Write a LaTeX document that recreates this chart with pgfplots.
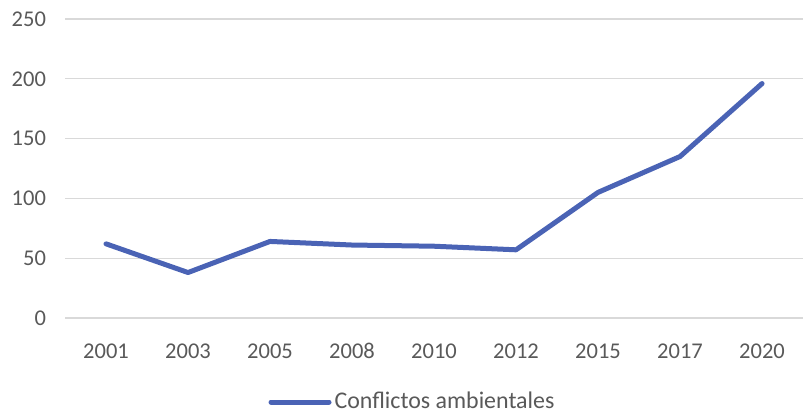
\documentclass[border=0pt]{standalone}
\usepackage{pgfplots}
\pgfplotsset{compat=1.18}
\usepackage{fontspec}
\setmainfont{Carlito}
\definecolor{serie}{HTML}{4A63B5}
\definecolor{rejilla}{HTML}{D9D9D9}
\definecolor{texto}{HTML}{595959}
\begin{document}
\begin{tikzpicture}
\begin{axis}[
    scale only axis,
    width=369bp,
    height=149.5bp,
    xmin=-0.5, xmax=8.5,
    ymin=0, ymax=250,
    ytick={0,50,100,150,200,250},
    xtick=data,
    xticklabels={2001,2003,2005,2008,2010,2012,2015,2017,2020},
    axis line style={draw=none},
    major tick length=0pt,
    ymajorgrids,
    grid style={rejilla, line width=0.6bp},
    tick label style={font=\fontsize{11.3}{13}\selectfont, text=texto},
    /pgf/number format/assume math mode=true,
    yticklabel style={xshift=-6bp},
    xticklabel style={anchor=base, yshift=-20.5bp},
    clip=false,
    legend style={
        at={(rel axis cs:0.4715,-0.281)}, anchor=center,
        draw=none, font=\fontsize{12}{14}\selectfont, text=texto,
        legend cell align=left, inner xsep=0pt,
        /tikz/every even column/.append style={column sep=0pt},
        nodes={inner xsep=1.5bp},
    },
    legend image code/.code={\draw[#1, line width=2.5bp] (0bp,0bp) -- (29bp,0bp);},
]
\addplot[serie, line width=2.5bp, line join=round, line cap=round] coordinates {
    (0,62) (1,38) (2,64) (3,61) (4,60) (5,57) (6,105) (7,135) (8,196)
};
\addlegendentry{Conflictos ambientales}
\path (rel axis cs:-0.0881,-0.3177) rectangle (rel axis cs:1.0081,1.0635);
\end{axis}
\end{tikzpicture}
\end{document}
